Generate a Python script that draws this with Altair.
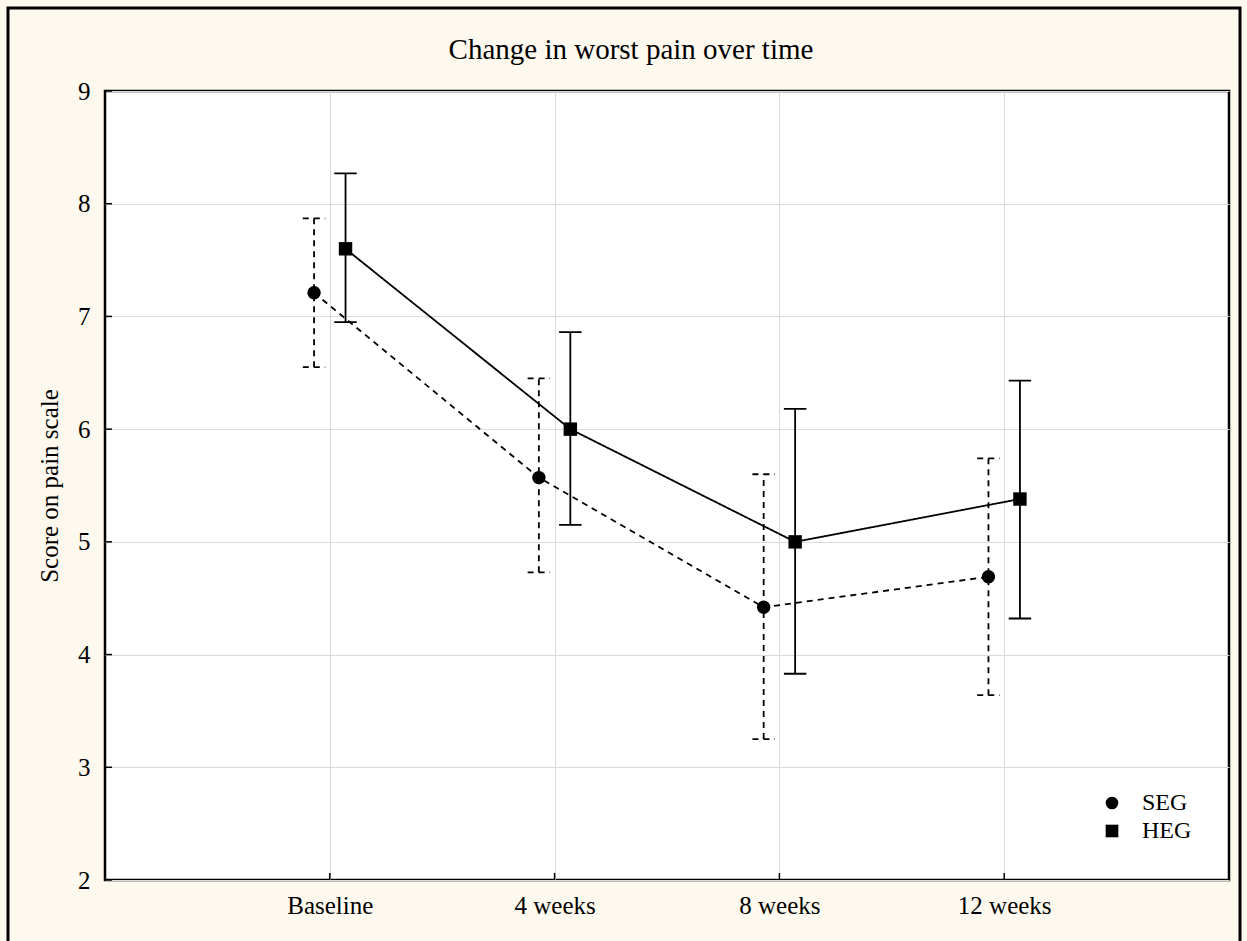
import altair as alt
import pandas as pd

timepoints = ["Baseline", "4 weeks", "8 weeks", "12 weeks"]
time_index = [1, 2, 3, 4]
y_ticks = [2, 3, 4, 5, 6, 7, 8, 9]

seg_mean = [7.21, 5.57, 4.42, 4.69]
seg_low = [6.55, 4.73, 3.25, 3.64]
seg_high = [7.87, 6.45, 5.60, 5.74]

heg_mean = [7.60, 6.00, 5.00, 5.38]
heg_low = [6.95, 5.15, 3.83, 4.32]
heg_high = [8.27, 6.86, 6.18, 6.43]

groups = ["SEG", "HEG"]
title_text = "Change in worst pain over time"

rows = []
for g, m, lo, hi in [("SEG", seg_mean, seg_low, seg_high), ("HEG", heg_mean, heg_low, heg_high)]:
    for t, i, a, b, c in zip(timepoints, time_index, m, lo, hi):
        rows.append({"group": g, "time": t, "idx": i, "mean": a, "low": b, "high": c})
df = pd.DataFrame(rows)

FONT = "Liberation Serif"
OFFSET = 0.07
CAP = 0.05
LW = 1.8

base = alt.Chart(df).transform_calculate(
    xpos=f"datum.idx + (datum.group == 'SEG' ? {-OFFSET} : {OFFSET})",
    xl=f"datum.idx + (datum.group == 'SEG' ? {-OFFSET} : {OFFSET}) - {CAP}",
    xr=f"datum.idx + (datum.group == 'SEG' ? {-OFFSET} : {OFFSET}) + {CAP}",
)

label_expr = "['', 'Baseline', '4 weeks', '8 weeks', '12 weeks', ''][datum.value]"

xscale = alt.Scale(domain=[0, 5], nice=False, zero=False)
yscale = alt.Scale(domain=[2, 9], nice=False, zero=False)

x_enc = alt.X(
    "xpos:Q",
    scale=xscale,
    axis=alt.Axis(
        values=time_index,
        labelExpr=label_expr,
        title=None,
        domain=False,
        ticks=False,
        grid=True,
        gridColor="#DADADA",
        labelFont=FONT,
        labelFontSize=25,
        labelColor="black",
        labelPadding=13,
    ),
)
y_enc = alt.Y(
    "mean:Q",
    scale=yscale,
    axis=alt.Axis(
        values=y_ticks,
        format="d",
        title="Score on pain scale",
        domain=False,
        ticks=False,
        grid=True,
        gridColor="#DADADA",
        labelFont=FONT,
        labelFontSize=25,
        labelColor="black",
        labelPadding=15,
        titleFont=FONT,
        titleFontSize=25,
        titleFontWeight="normal",
        titleColor="black",
        titlePadding=15,
    ),
)

legend = alt.Legend(
    title=None,
    orient="none",
    legendX=995,
    legendY=700,
    labelFont=FONT,
    labelFontSize=24,
    labelColor="black",
    symbolFillColor="black",
    symbolStrokeColor="black",
    symbolStrokeWidth=1.5,
    symbolSize=160,
    rowPadding=4,
    labelOffset=18,
)

dash_scale = alt.Scale(domain=groups, range=[[6, 5], [1, 0]])
shape_scale = alt.Scale(domain=groups, range=["circle", "square"])

lines = base.mark_line(color="black", strokeWidth=LW).encode(
    x=x_enc,
    y=y_enc,
    strokeDash=alt.StrokeDash("group:N", scale=dash_scale, legend=legend),
    detail="group:N",
)

bars = base.mark_rule(color="black", strokeWidth=LW).encode(
    x="xpos:Q",
    y="low:Q",
    y2="high:Q",
    strokeDash=alt.StrokeDash("group:N", scale=dash_scale, legend=legend),
)

cap_low = base.mark_rule(color="black", strokeWidth=LW).encode(
    x="xl:Q",
    x2="xr:Q",
    y="low:Q",
    strokeDash=alt.StrokeDash("group:N", scale=dash_scale, legend=legend),
)
cap_high = base.mark_rule(color="black", strokeWidth=LW).encode(
    x="xl:Q",
    x2="xr:Q",
    y="high:Q",
    strokeDash=alt.StrokeDash("group:N", scale=dash_scale, legend=legend),
)

points = base.mark_point(filled=True, color="black", opacity=1, size=180).encode(
    x="xpos:Q",
    y="mean:Q",
    shape=alt.Shape("group:N", scale=shape_scale, legend=legend),
)

ytick_marks = alt.Chart(pd.DataFrame({"v": y_ticks})).mark_rule(
    color="black", strokeWidth=1.5
).encode(
    y=alt.Y("v:Q", scale=yscale), x=alt.value(0), x2=alt.value(7)
)
xtick_marks = alt.Chart(pd.DataFrame({"v": time_index})).mark_rule(
    color="black", strokeWidth=1.5
).encode(
    x=alt.X("v:Q", scale=xscale), y=alt.value(789), y2=alt.value(782)
)

title = alt.Chart(alt.Data(values=[{"t": title_text}])).mark_text(
    font=FONT, fontSize=29, color="black", align="center", baseline="middle", clip=False
).encode(
    text="t:N", x=alt.value(526), y=alt.value(-41)
)

frame = alt.Chart(alt.Data(values=[{"a": 1}])).mark_rect(
    fill=None, stroke="black", strokeWidth=3, clip=False
).encode(
    x=alt.value(-97), x2=alt.value(1135), y=alt.value(-83), y2=alt.value(870)
)

chart = alt.layer(
    lines, bars, cap_low, cap_high, points, ytick_marks, xtick_marks, title, frame
).properties(
    width=1124,
    height=789,
    padding={"left": 105, "top": 91, "right": 18, "bottom": 61},
    autosize=alt.AutoSizeParams(type="none"),
    background="#FEF9EE",
).configure_view(
    fill="white", stroke="black", strokeWidth=2.5
)

chart.save("out.html", embed_options={"renderer": "svg", "actions": False})
